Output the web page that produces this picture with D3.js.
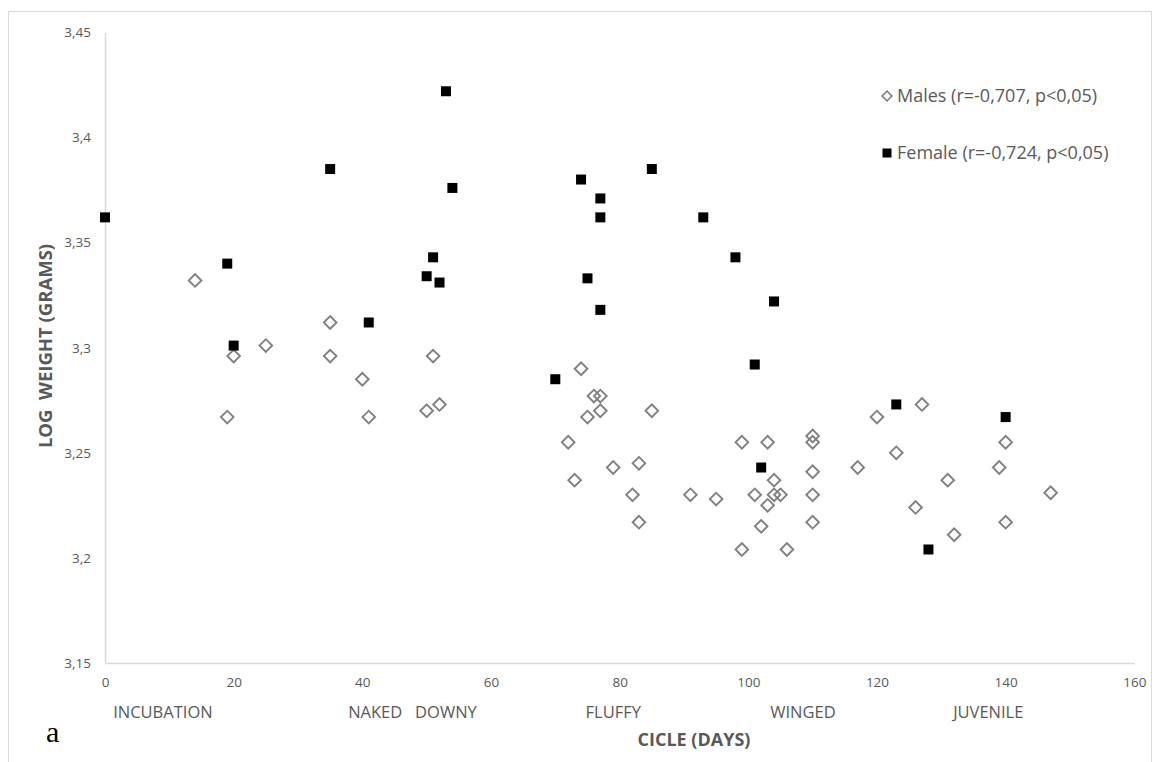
<!DOCTYPE html>
<html>
<head>
<meta charset="utf-8">
<script src="https://cdn.jsdelivr.net/npm/d3@7"></script>
<style>
  body { margin: 0; background: #fff; }
  text { font-family: "Open Sans", sans-serif; fill: #595959; }
</style>
</head>
<body>
<script>
// cycle day and log weight, males
var maleDays = [14, 19, 20, 25, 35, 35, 40, 41, 50, 51, 52,
  72, 73, 74, 75, 76, 77, 77, 79, 82, 83, 83, 85,
  91, 95, 99, 99, 101, 102, 103, 103, 104, 104, 105, 106,
  110, 110, 110, 110, 110, 117, 120, 123, 126, 127, 131, 132,
  139, 140, 140, 147];
var maleWeights = [3.332, 3.267, 3.296, 3.301, 3.312, 3.296, 3.285, 3.267, 3.270, 3.296, 3.273,
  3.255, 3.237, 3.290, 3.267, 3.277, 3.277, 3.270, 3.243, 3.230, 3.245, 3.217, 3.270,
  3.230, 3.228, 3.255, 3.204, 3.230, 3.215, 3.255, 3.225, 3.237, 3.230, 3.230, 3.204,
  3.258, 3.255, 3.241, 3.230, 3.217, 3.243, 3.267, 3.250, 3.224, 3.273, 3.237, 3.211,
  3.243, 3.255, 3.217, 3.231];

// cycle day and log weight, females
var femaleDays = [0, 19, 20, 35, 41, 50, 51, 52, 53, 54,
  70, 74, 75, 77, 77, 77, 85, 93, 98, 101, 102, 104,
  123, 128, 140];
var femaleWeights = [3.362, 3.340, 3.301, 3.385, 3.312, 3.334, 3.343, 3.331, 3.422, 3.376,
  3.285, 3.380, 3.333, 3.371, 3.362, 3.318, 3.385, 3.362, 3.343, 3.292, 3.243, 3.322,
  3.273, 3.204, 3.267];

var xTicks = [0, 20, 40, 60, 80, 100, 120, 140, 160];
var yTicks = [3.15, 3.2, 3.25, 3.3, 3.35, 3.4, 3.45];

// development stages and the day they sit under
var stageNames = ["INCUBATION", "NAKED", "DOWNY", "FLUFFY", "WINGED", "JUVENILE"];
var stageDays = [9, 42, 53, 79, 108.5, 137.3];

var legendLabels = ["Males (r=-0,707, p<0,05)", "Female (r=-0,724, p<0,05)"];

var width = 1155;
var height = 762;

var svg = d3.select("body").append("svg")
  .attr("width", width)
  .attr("height", height);

// outer chart border
svg.append("rect")
  .attr("x", 8.5)
  .attr("y", 11.5)
  .attr("width", 1143)
  .attr("height", 770)
  .attr("fill", "none")
  .attr("stroke", "#d9d9d9")
  .attr("stroke-width", 1);

var x = d3.scaleLinear().domain([0, 160]).range([105, 1134.3]);
var y = d3.scaleLinear().domain([3.15, 3.45]).range([663, 32.4]);

var commaFmt = function(d) { return String(+d.toFixed(2)).replace(".", ","); };

var xAxis = svg.append("g")
    .attr("transform", "translate(0," + y(3.15) + ")")
    .call(d3.axisBottom(x).tickValues(xTicks).tickSize(0).tickPadding(14).tickFormat(function(d) { return d; }));
xAxis.select(".domain").attr("stroke", "#d9d9d9").attr("stroke-width", 1.5);
xAxis.selectAll("text")
    .style("font-size", "13.5px")
    .attr("fill", "#595959");

var yAxis = svg.append("g")
    .attr("transform", "translate(" + x(0) + ",0)")
    .call(d3.axisLeft(y).tickValues(yTicks).tickSize(0).tickPadding(14).tickFormat(commaFmt));
yAxis.select(".domain").attr("stroke", "#d9d9d9").attr("stroke-width", 1.5);
yAxis.selectAll("text")
    .style("font-size", "13.5px")
    .attr("fill", "#595959");

// stage labels under the axis
svg.append("g").selectAll("text")
  .data(stageNames)
  .enter().append("text")
    .attr("x", function(d, i) { return x(stageDays[i]); })
    .attr("y", 718)
    .attr("text-anchor", "middle")
    .style("font-size", "16.5px")
    .text(function(d) { return d; });

svg.append("text")
  .attr("x", 694)
  .attr("y", 746)
  .attr("text-anchor", "middle")
  .style("font-size", "18px")
  .style("font-weight", "bold")
  .text("CICLE (DAYS)");

svg.append("text")
  .attr("transform", "translate(52,346) rotate(-90)")
  .attr("text-anchor", "middle")
  .style("font-size", "18.5px")
  .style("font-weight", "bold")
  .style("white-space", "pre")
  .text("LOG  WEIGHT (GRAMS)");

svg.append("text")
  .attr("x", 46)
  .attr("y", 742)
  .style("font-family", "'Liberation Serif', serif")
  .style("font-size", "30px")
  .style("fill", "#000")
  .text("a");

var diamond = d3.symbol().type(d3.symbolSquare).size(80);
var square = d3.symbol().type(d3.symbolSquare).size(100);

var males = maleDays.map(function(d, i) { return { day: d, w: maleWeights[i] }; });
var females = femaleDays.map(function(d, i) { return { day: d, w: femaleWeights[i] }; });

svg.append("g").selectAll("path")
  .data(males)
  .enter().append("path")
    .attr("d", diamond)
    .attr("transform", function(d) { return "translate(" + x(d.day) + "," + y(d.w) + ") rotate(45)"; })
    .attr("fill", "none")
    .attr("stroke", "#808080")
    .attr("stroke-width", 1.9);

svg.append("g").selectAll("path")
  .data(females)
  .enter().append("path")
    .attr("d", square)
    .attr("transform", function(d) { return "translate(" + x(d.day) + "," + y(d.w) + ")"; })
    .attr("fill", "#000");

// legend
var legend = svg.append("g");
legend.append("path")
  .attr("d", d3.symbol().type(d3.symbolSquare).size(48))
  .attr("transform", "translate(887,96) rotate(45)")
  .attr("fill", "none")
  .attr("stroke", "#808080")
  .attr("stroke-width", 1.6);
legend.append("path")
  .attr("d", d3.symbol().type(d3.symbolSquare).size(81))
  .attr("transform", "translate(887,153)")
  .attr("fill", "#000");
legend.selectAll("text")
  .data(legendLabels)
  .enter().append("text")
    .attr("x", 897)
    .attr("y", function(d, i) { return i === 0 ? 96 : 153; })
    .attr("dy", "0.35em")
    .style("font-size", "18px")
    .text(function(d) { return d; });
</script>
</body>
</html>
